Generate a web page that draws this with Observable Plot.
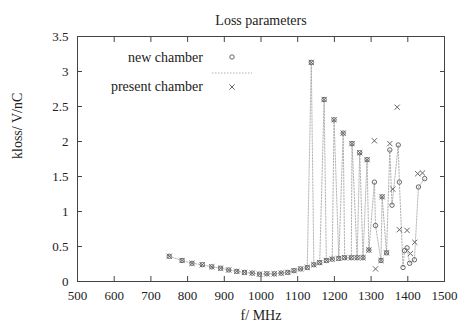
<!DOCTYPE html>
<html><head><meta charset="utf-8">
<script src="https://cdn.jsdelivr.net/npm/d3@7"></script>
<script src="https://cdn.jsdelivr.net/npm/@observablehq/plot@0.6"></script>
<style>body{margin:0;background:#fff}</style>
</head><body><div id="chart"></div>
<script>
// new chamber (circles, joined by the dashed line)
const newFreq  = [750,785,812,840,866,890,912,934,955,976,996,1016,1036,1055,1073,1090,1108,1126,1137,1144,1160,1172,1178,1194,1199,1212,1224,1228,1246,1248,1262,1269,1278,1289,1294,1309,1312,1327,1330,1342,1351,1357,1374,1377,1387,1391,1398,1405,1418,1429,1446];
const newKloss = [0.36,0.30,0.26,0.24,0.21,0.19,0.165,0.145,0.13,0.12,0.105,0.11,0.11,0.12,0.13,0.155,0.18,0.20,3.13,0.24,0.27,2.60,0.30,0.32,2.31,0.33,2.12,0.34,0.34,1.97,0.34,1.84,0.34,1.74,0.45,1.42,0.80,0.30,1.21,0.41,1.88,1.09,1.95,1.42,0.20,0.44,0.48,0.26,0.31,1.35,1.47];
// present chamber (crosses)
const presFreq  = [750,785,812,840,866,890,912,934,955,976,996,1016,1036,1055,1073,1090,1108,1126,1137,1144,1160,1172,1178,1194,1199,1212,1224,1228,1246,1248,1262,1269,1278,1289,1294,1309,1312,1327,1330,1342,1351,1359,1371,1377,1398,1407,1419,1427,1440];
const presKloss = [0.36,0.30,0.26,0.24,0.21,0.19,0.165,0.145,0.13,0.12,0.105,0.11,0.11,0.12,0.13,0.155,0.18,0.20,3.13,0.24,0.27,2.60,0.30,0.32,2.31,0.33,2.12,0.34,0.34,1.97,0.34,1.84,0.34,1.74,0.45,2.01,0.18,0.30,1.21,0.41,1.97,1.32,2.49,0.74,0.73,0.40,0.56,1.54,1.55];

const xTicks = [500,600,700,800,900,1000,1100,1200,1300,1400,1500];
const yTicks = [0,0.5,1,1.5,2,2.5,3,3.5];
const titleText = "Loss parameters";
const xLabel = "f/ MHz";
const yLabel = "kloss/ V/nC";
const seriesNames = ["new chamber", "present chamber"];

const newData = newFreq.map((f, i) => ({f, k: newKloss[i]}));
const presData = presFreq.map((f, i) => ({f, k: presKloss[i]}));

const font = "'Liberation Serif', 'DejaVu Serif', serif";
const ink = "#222";
const markInk = "#666";
const lineInk = "#a0a0a0";

function legend(index, scales, values, dims) {
  const x0 = dims.marginLeft, y0 = dims.marginTop;
  const g = d3.create("svg:g").attr("font-family", font).attr("font-size", 14).attr("fill", ink);
  g.append("text").attr("x", x0 + 126).attr("y", y0 + 26).attr("text-anchor", "end").text(seriesNames[0]);
  g.append("text").attr("x", x0 + 126).attr("y", y0 + 55).attr("text-anchor", "end").text(seriesNames[1]);
  g.append("circle").attr("cx", x0 + 155).attr("cy", y0 + 21).attr("r", 2.2)
    .attr("fill", "none").attr("stroke", markInk);
  g.append("line").attr("x1", x0 + 135).attr("x2", x0 + 175).attr("y1", y0 + 37).attr("y2", y0 + 37)
    .attr("stroke", lineInk).attr("stroke-width", 0.8).attr("stroke-dasharray", "1.5,1.5");
  g.append("path").attr("transform", `translate(${x0 + 155},${y0 + 51})`)
    .attr("d", d3.symbol(d3.symbolTimes, Math.PI * 2.5 * 2.5)())
    .attr("fill", "none").attr("stroke", markInk);
  return g.node();
}

const fmt = d => String(d);

const chart = Plot.plot({
  width: 461, height: 325,
  marginLeft: 77, marginRight: 17, marginTop: 36, marginBottom: 44,
  style: {fontFamily: font, fontSize: "13px", color: ink, background: "#fff"},
  x: {domain: [500, 1500]},
  y: {domain: [0, 3.5]},
  marks: [
    Plot.frame({stroke: "#444"}),
    Plot.axisX({anchor: "bottom", ticks: xTicks, tickSize: -5, tickPadding: 14, tickFormat: fmt, label: null, stroke: "#444"}),
    Plot.axisX({anchor: "top", ticks: xTicks, tickSize: -5, tickFormat: () => "", label: null, stroke: "#444"}),
    Plot.axisY({anchor: "left", ticks: yTicks, tickSize: -5, tickPadding: 14, tickFormat: fmt, label: null, stroke: "#444"}),
    Plot.axisY({anchor: "right", ticks: yTicks, tickSize: -5, tickFormat: () => "", label: null, stroke: "#444"}),
    Plot.line(newData, {x: "f", y: "k", stroke: lineInk, strokeWidth: 0.8, strokeDasharray: "1.5,1.5"}),
    Plot.dot(newData, {x: "f", y: "k", r: 2.2, stroke: markInk, strokeWidth: 1, symbol: "circle"}),
    Plot.dot(presData, {x: "f", y: "k", r: 2.5, stroke: markInk, strokeWidth: 1, symbol: "times"}),
    Plot.text([titleText], {frameAnchor: "top", dy: -21, fontSize: 14, fill: ink}),
    Plot.text([xLabel], {frameAnchor: "bottom", dy: 38, fontSize: 14, fill: ink}),
    Plot.text([yLabel], {frameAnchor: "left", dx: -60, rotate: -90, fontSize: 14, fill: ink}),
    legend
  ]
});
document.getElementById("chart").appendChild(chart);
</script>
</body></html>
